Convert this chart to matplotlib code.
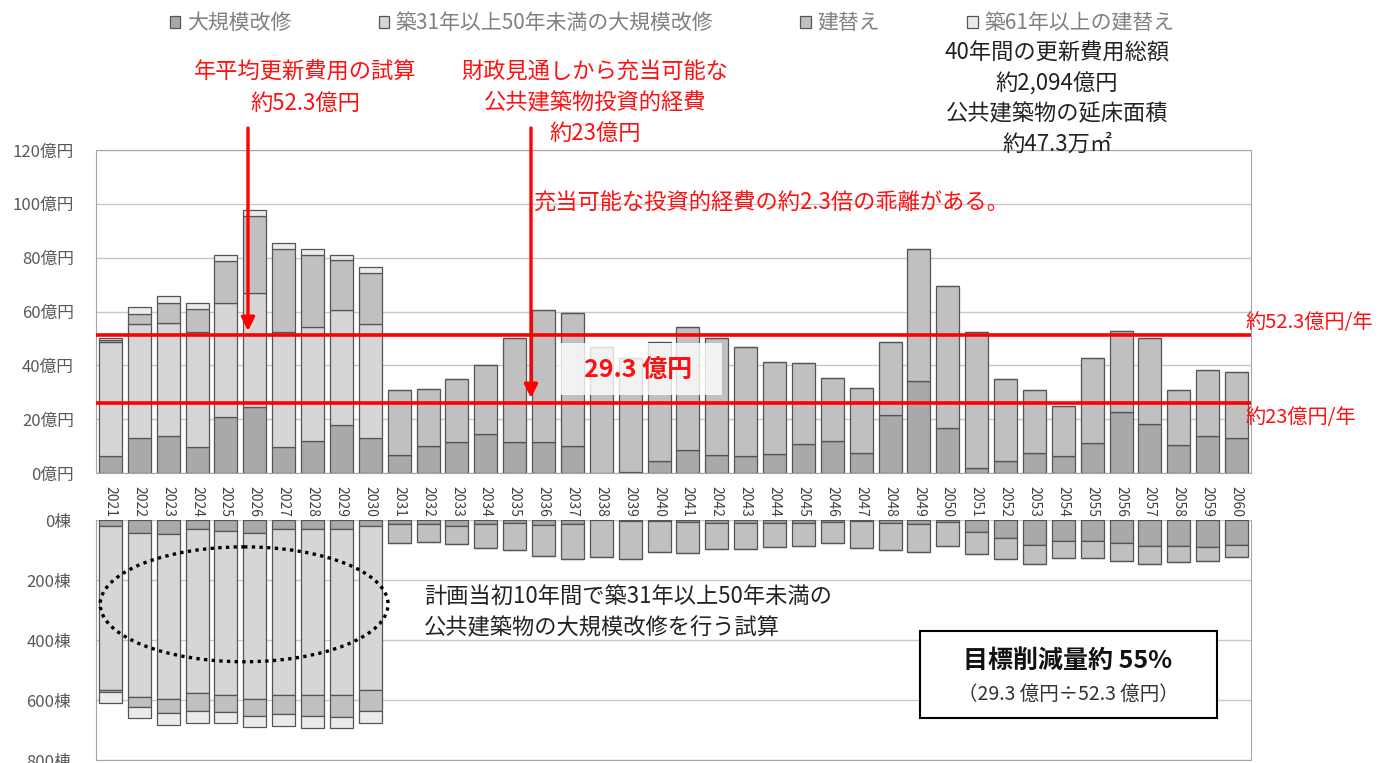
import matplotlib.pyplot as plt
from matplotlib.patches import Patch, Rectangle, Ellipse

plt.rcParams['font.family'] = ['Noto Sans CJK JP', 'DejaVu Sans']

years = [str(y) for y in range(2021, 2061)]

labels = ['大規模改修', '築31年以上50年未満の大規模改修', '建替え', '築61年以上の建替え']
colors = ['#a9a9a9', '#d6d6d6', '#c0c0c0', '#ebebeb']

# 更新費用（億円）
cost_major = [6.4, 13.0, 13.6, 9.6, 20.8, 24.7, 9.6, 12.0, 17.9, 13.0,
              6.8, 10.1, 11.5, 14.5, 11.5, 11.5, 9.9, 0.0, 0.4, 4.3,
              8.7, 6.7, 6.4, 6.9, 10.9, 12.0, 7.4, 21.4, 34.3, 16.9,
              1.9, 4.6, 7.4, 6.4, 11.1, 22.5, 18.3, 10.3, 13.6, 12.9]
cost_major_31_50 = [42.4, 42.4, 42.3, 42.7, 42.3, 42.1, 42.7, 42.4, 42.5, 42.4] + [0] * 30
cost_rebuild = [0.7, 3.7, 7.4, 8.6, 15.6, 28.7, 31.0, 26.6, 18.7, 18.8,
                23.9, 21.2, 23.4, 25.7, 38.6, 48.9, 49.7, 46.9, 42.3, 44.4,
                45.7, 43.5, 40.4, 34.3, 29.8, 23.4, 24.1, 27.2, 49.0, 52.6,
                50.6, 30.3, 23.3, 18.6, 31.6, 30.4, 31.7, 20.6, 24.5, 24.5]
cost_rebuild_61 = [0.8, 2.4, 2.5, 2.1, 2.2, 2.2, 2.1, 2.3, 1.9, 2.3] + [0] * 30

# 棟数
bldg_major = [19, 42, 47, 30, 36, 44, 31, 31, 31, 19,
              13, 13, 19, 14, 11, 17, 13, 0, 3, 2,
              6, 11, 11, 11, 11, 7, 2, 11, 14, 6,
              39, 61, 83, 70, 69, 78, 87, 87, 89, 83]
bldg_major_31_50 = [548, 549, 549, 548, 547, 552, 552, 552, 552, 548] + [0] * 30
bldg_rebuild = [5, 31, 48, 58, 56, 56, 65, 69, 73, 69,
                65, 61, 62, 78, 89, 102, 117, 122, 127, 106,
                103, 85, 85, 78, 75, 71, 92, 89, 94, 81,
                75, 69, 65, 58, 59, 58, 61, 52, 47, 41]
bldg_rebuild_61 = [37, 37, 40, 41, 38, 39, 38, 40, 38, 41] + [0] * 30

avg_cost = 51.2     # 約52.3億円/年 の線
avail_cost = 26.1   # 約23億円/年 の線

W, H = 1384, 763


def fx(x):
    return x / W


def fy(y):
    return 1 - y / H


def stacked(ax, series):
    bottom = [0] * len(years)
    for vals, c in zip(series, colors):
        ax.bar(range(len(years)), vals, bottom=bottom, width=0.8, color=c,
               edgecolor='#555555', linewidth=0.9, zorder=2)
        bottom = [b + v for b, v in zip(bottom, vals)]


fig = plt.figure(figsize=(W / 100, H / 100), dpi=100)
ax_top = fig.add_axes([fx(96), fy(473), (1251 - 96) / W, (473 - 150) / H])
ax_bot = fig.add_axes([fx(96), fy(760), (1251 - 96) / W, (760 - 520) / H])

# 上段：更新費用
stacked(ax_top, [cost_major, cost_major_31_50, cost_rebuild, cost_rebuild_61])
ax_top.set_xlim(-0.5, len(years) - 0.5)
ax_top.set_ylim(0, 120)
ax_top.set_yticks(range(0, 121, 20))
ax_top.set_yticklabels([f'{v}億円' for v in range(0, 121, 20)], fontsize=12, color='#595959')
ax_top.set_xticks(range(len(years)))
ax_top.set_xticklabels(years, rotation=-90, fontsize=10, color='#404040')
ax_top.tick_params(axis='y', length=0, pad=16)
ax_top.tick_params(axis='x', length=0, pad=9)
ax_top.grid(axis='y', color='#c8c8c8', lw=1)
ax_top.set_axisbelow(True)
for s in ax_top.spines.values():
    s.set_color('#a6a6a6')

ax_top.axhline(avg_cost, color='red', lw=2.6, zorder=4)
ax_top.axhline(avail_cost, color='red', lw=2.6, zorder=4)

# 下段：棟数
stacked(ax_bot, [bldg_major, bldg_major_31_50, bldg_rebuild, bldg_rebuild_61])
ax_bot.set_xlim(-0.5, len(years) - 0.5)
ax_bot.set_ylim(800, 0)
ax_bot.set_yticks(range(0, 801, 200))
ax_bot.set_yticklabels([f'{v}棟' for v in range(0, 801, 200)], fontsize=12, color='#595959')
ax_bot.set_xticks([])
ax_bot.tick_params(length=0, pad=18)
ax_bot.grid(axis='y', color='#c8c8c8', lw=1)
ax_bot.set_axisbelow(True)
ax_bot.spines['top'].set_visible(False)
for s in ['left', 'right', 'bottom']:
    ax_bot.spines[s].set_color('#a6a6a6')

ax_bot.add_patch(Ellipse((4.63, 281), 9.97, 383, fill=False, ec='black', lw=2.4,
                         ls=(0, (1, 1.3)), zorder=5, clip_on=False))

# 凡例
handles = [Patch(facecolor=c, edgecolor='#555555', lw=0.9) for c in colors]
fig.legend(handles, labels, loc='center', bbox_to_anchor=(fx(672), fy(23)), ncol=4,
           frameon=False, fontsize=15, handlelength=0.5, handleheight=0.5,
           handletextpad=0.3, columnspacing=4.2, labelcolor='#808080')

red = '#ff1010'
fig.text(fx(305), fy(72), '年平均更新費用の試算', ha='center', va='center', fontsize=16, color=red)
fig.text(fx(305), fy(103), '約52.3億円', ha='center', va='center', fontsize=16, color=red)
fig.text(fx(595), fy(72), '財政見通しから充当可能な', ha='center', va='center', fontsize=16, color=red)
fig.text(fx(595), fy(103), '公共建築物投資的経費', ha='center', va='center', fontsize=16, color=red)
fig.text(fx(595), fy(133), '約23億円', ha='center', va='center', fontsize=16, color=red)
fig.text(fx(533), fy(203), '充当可能な投資的経費の約2.3倍の乖離がある。', ha='left', va='center',
         fontsize=16, color=red)
fig.text(fx(1246), fy(323), '約52.3億円/年', ha='left', va='center', fontsize=14.5, color=red)
fig.text(fx(1246), fy(418), '約23億円/年', ha='left', va='center', fontsize=14.5, color=red)

for x, y0, y1 in [(248, 128, 331), (531, 128, 398)]:
    ax_top.annotate('', xy=(fx(x), fy(y1)), xytext=(fx(x), fy(y0)), xycoords='figure fraction',
                    textcoords='figure fraction', annotation_clip=False,
                    arrowprops=dict(arrowstyle='-|>', color='red', lw=2.4, mutation_scale=20,
                                    shrinkA=0, shrinkB=0))

for i, t in enumerate(['40年間の更新費用総額', '約2,094億円', '公共建築物の延床面積', '約47.3万㎡']):
    fig.text(fx(1057), fy(53 + i * 30.5), t, ha='center', va='center', fontsize=16, color='#222222')

# 29.3億円ラベル
fig.add_artist(Rectangle((fx(557), fy(395)), (722 - 557) / W, (395 - 343) / H,
                         transform=fig.transFigure, fc='white', ec='none', alpha=0.8, zorder=3))
fig.text(fx(638), fy(370), '29.3 億円', ha='center', va='center', fontsize=18,
         fontweight='bold', color=red, zorder=4)

fig.text(fx(424), fy(597), '計画当初10年間で築31年以上50年未満の', ha='left', va='center',
         fontsize=16, color='#222222')
fig.text(fx(424), fy(628), '公共建築物の大規模改修を行う試算', ha='left', va='center',
         fontsize=16, color='#222222')

# 目標削減量ボックス
fig.add_artist(Rectangle((fx(920), fy(718)), (1217 - 920) / W, (718 - 631) / H,
                         transform=fig.transFigure, fc='white', ec='black', lw=1.5, zorder=4))
fig.text(fx(1068), fy(661), '目標削減量約 55%', ha='center', va='center', fontsize=18,
         fontweight='bold', color='#111111', zorder=5)
fig.text(fx(1068), fy(694), '（29.3 億円÷52.3 億円）', ha='center', va='center', fontsize=14,
         color='#333333', zorder=5)

fig.savefig('out.png', dpi=100)
